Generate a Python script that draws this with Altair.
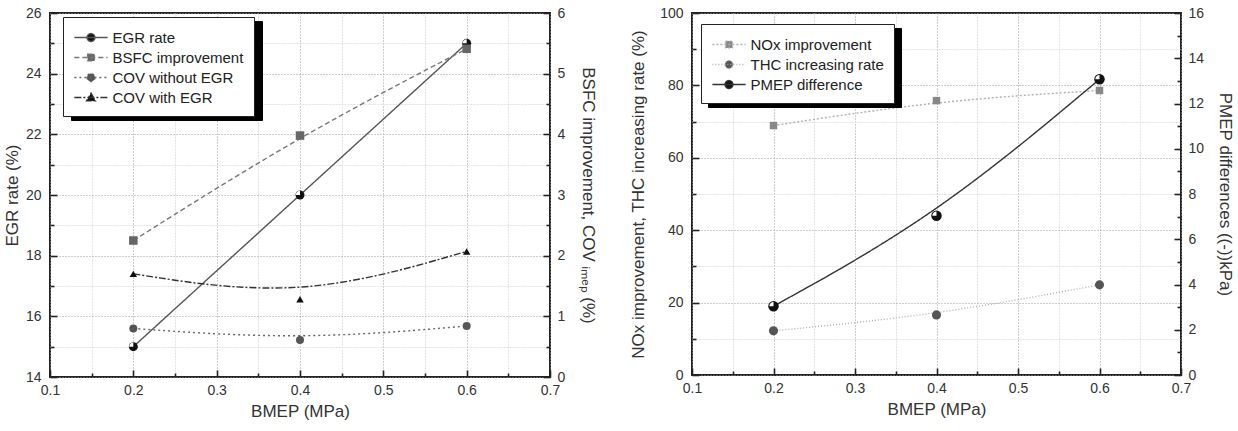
import altair as alt
import pandas as pd

# ---------------- data ----------------
BMEP = [0.2, 0.4, 0.6]

LEFT_SERIES = ["EGR rate", "BSFC improvement", "COV without EGR", "COV with EGR"]
EGR_RATE = [15.0, 20.0, 25.0]            # left axis (%)
BSFC_IMPROVEMENT = [2.25, 3.98, 5.41]    # right axis (%)
COV_WITHOUT_EGR = [0.80, 0.61, 0.84]     # right axis (%)
COV_WITH_EGR = [1.70, 1.28, 2.07]        # right axis (%)

RIGHT_SERIES = ["NOx improvement", "THC increasing rate", "PMEP difference"]
NOX_IMPROVEMENT = [68.9, 75.8, 78.6]     # left axis (%)
THC_INCREASING = [12.2, 16.6, 24.9]      # left axis (%)
PMEP_DIFFERENCE = [3.04, 7.04, 13.07]    # right axis (kPa)

X_TICKS = [0.1, 0.15, 0.2, 0.25, 0.3, 0.35, 0.4, 0.45, 0.5, 0.55, 0.6, 0.65, 0.7]
EGR_TICKS = list(range(14, 27))
BSFC_TICKS = [0, 0.5, 1, 1.5, 2, 2.5, 3, 3.5, 4, 4.5, 5, 5.5, 6]
NOX_TICKS = list(range(0, 101, 10))
PMEP_TICKS = list(range(0, 17))

FONT = "Liberation Sans"
TXT = "#333333"

# ---------------- tables ----------------
def long_table(series_names, series_values):
    rows = []
    for name, vals in zip(series_names, series_values):
        for x, v in zip(BMEP, vals):
            rows.append({"BMEP": x, "value": v, "series": name})
    return pd.DataFrame(rows)

left_df = long_table(LEFT_SERIES, [EGR_RATE, BSFC_IMPROVEMENT, COV_WITHOUT_EGR, COV_WITH_EGR])
right_df = long_table(RIGHT_SERIES, [NOX_IMPROVEMENT, THC_INCREASING, PMEP_DIFFERENCE])

# ---------------- styles ----------------
LEFT_STYLE = {
    "line_color": ["#555555", "#777777", "#666666", "#333333"],
    "dash": [[1, 0], [5, 3], [2, 3], [7, 2, 2, 2]],
    "fill": ["#111111", "#666666", "#555555", "#111111"],
    "shape": ["circle", "square", "circle", "triangle-up"],
    "size": [81, 56, 81, 150],
}
RIGHT_STYLE = {
    "line_color": ["#b0b0b0", "#b0b0b0", "#333333"],
    "dash": [[2, 2], [1, 2], [1, 0]],
    "fill": ["#888888", "#555555", "#111111"],
    "shape": ["square", "circle", "circle"],
    "size": [56, 110, 81],
}

R = 0.42
CIRCLE = f"M-{R},0A{R},{R} 0 1,0 {R},0A{R},{R} 0 1,0 -{R},0Z"
SQUARE = "M-0.36,-0.36H0.36V0.36H-0.36Z"
TRIANGLE = "M0,-0.46L0.48,0.36H-0.48Z"
LINE = "M-1.75,0H1.75"
LEG_PATH = {"circle": CIRCLE, "square": SQUARE, "triangle-up": TRIANGLE}


def legend_props(lx, ly, shadow=False):
    return alt.Legend(
        title=None, orient="none", legendX=lx, legendY=ly, zindex=1,
        fillColor="#000000" if shadow else "#ffffff",
        strokeColor="#000000" if shadow else "#222222",
        labelColor="#000000" if shadow else "#222222",
        padding=10, symbolSize=361, rowPadding=1, labelOffset=11, symbolOffset=7.5,
        labelFont=FONT, labelFontSize=15, symbolStrokeWidth=1.3, symbolOpacity=1,
        labelLimit=300,
    )


def real_axis(orient, values, title, major_test, grid=False, label_pad=6, title_pad=8, fmt=None):
    kw = {}
    if fmt:
        kw["format"] = fmt
    return alt.Axis(
        orient=orient, values=values, title=title,
        labelExpr=f"({major_test}) ? datum.label : ''",
        ticks=False, tickSize=0, domain=False, labelOverlap=False, labelFlush=False,
        labelFont=FONT, labelFontSize=14, labelColor=TXT, labelPadding=label_pad,
        titleFont=FONT, titleFontSize=17, titleFontWeight="normal", titleColor=TXT,
        titlePadding=title_pad,
        grid=grid,
        gridColor={"condition": {"test": major_test, "value": "#9a9a9a"}, "value": "#e2e2e2"},
        gridDash={"condition": {"test": major_test, "value": [1, 2]}, "value": [2, 1]},
        gridWidth=1, **kw,
    )


def tick_axis(orient, values, offset, major_test):
    return alt.Axis(
        orient=orient, offset=offset, values=values, labels=False, domain=False,
        grid=False, title=None, ticks=True, tickColor="#222222", tickWidth=1.6,
        tickSize={"condition": {"test": major_test, "value": 7}, "value": 4},
    )


X_MAJOR = "round(datum.value*100) % 10 === 0"


def panel(df, series, style, left_names, right_names, ydom_l, ydom_r, ticks_l, ticks_r,
          major_l, major_r, title_l, title_r, W, H, leg_xy, shadow_off, tp_l, tp_r, highlight):
    base = alt.Chart(df)
    xs = alt.Scale(domain=[0.1, 0.7], nice=False, zero=False)
    ysl = alt.Scale(domain=ydom_l, nice=False, zero=False)
    ysr = alt.Scale(domain=ydom_r, nice=False, zero=False)

    def sc(key):
        return alt.Scale(domain=series, range=style[key])

    paths = [LINE + LEG_PATH[s] for s in style["shape"]]
    permuted = series[1:] + series[:1]
    perm_paths = paths[1:] + paths[:1]

    empty = base.transform_filter("false")
    # drop shadow of the legend box: a twin legend in black, drawn underneath, offset
    shadow_leg = legend_props(leg_xy[0] + shadow_off[0], leg_xy[1] + shadow_off[1], shadow=True)
    shadow_layer = empty.mark_point(filled=True, color="#000000").encode(
        x=alt.X("BMEP:Q", scale=xs, axis=None),
        y=alt.Y("value:Q", scale=alt.Scale(domain=[0, 1000]), axis=None),
        shape=alt.Shape("series:N", scale=alt.Scale(domain=permuted, range=perm_paths),
                        legend=shadow_leg),
    )
    main_leg = legend_props(leg_xy[0], leg_xy[1])
    legend_layer = empty.mark_point(filled=True).encode(
        x=alt.X("BMEP:Q", scale=xs, axis=None),
        y=alt.Y("value:Q", scale=alt.Scale(domain=[0, 1000]), axis=None),
        shape=alt.Shape("series:N", scale=alt.Scale(domain=series, range=paths), legend=main_leg),
        fill=alt.Fill("series:N", scale=sc("fill"), legend=main_leg),
        stroke=alt.Stroke("series:N", scale=sc("line_color"), legend=main_leg),
        strokeDash=alt.StrokeDash("series:N", scale=sc("dash"), legend=main_leg),
    )

    in_left = alt.FieldOneOfPredicate(field="series", oneOf=left_names)
    in_right = alt.FieldOneOfPredicate(field="series", oneOf=right_names)

    def lines(pred, ys, xaxis, yaxis):
        return base.transform_filter(pred).mark_line(interpolate="basis", strokeWidth=1.4).encode(
            x=alt.X("BMEP:Q", scale=xs, axis=xaxis),
            y=alt.Y("value:Q", scale=ys, axis=yaxis),
            stroke=alt.Stroke("series:N", scale=sc("line_color"), legend=None),
            strokeDash=alt.StrokeDash("series:N", scale=sc("dash"), legend=None),
        )

    def points(pred, ys, xaxis, yaxis):
        return base.transform_filter(pred).mark_point(filled=True, opacity=1).encode(
            x=alt.X("BMEP:Q", scale=xs, axis=xaxis),
            y=alt.Y("value:Q", scale=ys, axis=yaxis),
            fill=alt.Fill("series:N", scale=sc("fill"), legend=None),
            shape=alt.Shape("series:N", scale=sc("shape"), legend=None),
            size=alt.Size("series:N", scale=sc("size"), legend=None),
        )

    x_real = real_axis("bottom", X_TICKS, "BMEP (MPa)", X_MAJOR, grid=True, label_pad=6,
                       title_pad=6, fmt=".1f")
    y_left_real = real_axis("left", ticks_l, title_l, major_l, grid=True, label_pad=9,
                            title_pad=tp_l, fmt=".0f")
    y_right_real = real_axis("right", ticks_r, title_r, major_r, grid=False, label_pad=7,
                             title_pad=tp_r, fmt=".0f")

    l1 = lines(in_left, ysl, x_real, y_left_real)
    p1 = points(in_left, ysl, tick_axis("top", X_TICKS, -H, X_MAJOR),
                tick_axis("right", ticks_l, -W, major_l))
    l2 = lines(in_right, ysr, None, y_right_real)
    p2 = points(in_right, ysr, None, tick_axis("left", ticks_r, -W, major_r))

    hl_pred = alt.FieldEqualPredicate(field="series", equal=highlight[0])
    hl_scale = ysl if highlight[1] == "l" else ysr
    hl = base.transform_filter(hl_pred).mark_point(
        filled=True, shape="M0,0L-1,0A1,1 0 0,1 0,-1Z", size=70, color="#ffffff", opacity=1
    ).encode(
        x=alt.X("BMEP:Q", scale=xs, axis=None),
        y=alt.Y("value:Q", scale=hl_scale, axis=None),
    )

    return alt.layer(shadow_layer, legend_layer, l1, p1, l2, p2, hl).resolve_scale(
        y="independent", shape="independent", fill="independent", stroke="independent",
        strokeDash="independent", size="independent", color="independent",
    ).resolve_legend(
        shape="independent", fill="independent", stroke="independent",
        strokeDash="independent", color="independent",
    ).resolve_axis(x="independent", y="independent").properties(width=W, height=H)


left = panel(
    left_df, LEFT_SERIES, LEFT_STYLE, ["EGR rate"], LEFT_SERIES[1:],
    [14, 26], [0, 6], EGR_TICKS, BSFC_TICKS,
    "datum.value % 2 === 0", "datum.value % 1 === 0",
    "EGR rate (%)", "BSFC improvement, COV ᵢₘₑₚ (%)", 500, 364, (13, 4), (8, 4),
    4, 14, ("EGR rate", "l"),
)
right = panel(
    right_df, RIGHT_SERIES, RIGHT_STYLE, RIGHT_SERIES[:2], ["PMEP difference"],
    [0, 100], [0, 16], NOX_TICKS, PMEP_TICKS,
    "datum.value % 20 === 0", "datum.value % 2 === 0",
    "NOx improvement, THC increasing rate (%)", "PMEP differences ((-))kPa)", 489, 362, (9, 11),
    (7, 4), 12, 12, ("PMEP difference", "r"),
)

chart = alt.hconcat(left, right, spacing=30).resolve_scale(
    stroke="independent", strokeDash="independent", fill="independent",
    shape="independent", size="independent", color="independent",
).resolve_legend(
    stroke="independent", strokeDash="independent", fill="independent",
    shape="independent", color="independent",
).configure(
    font=FONT, background="white", padding={"left": 2, "top": 5, "right": 2, "bottom": 2}
).configure_view(
    stroke="#222222", strokeWidth=2
)

chart.save("out.html", embed_options={"renderer": "svg", "actions": False})
